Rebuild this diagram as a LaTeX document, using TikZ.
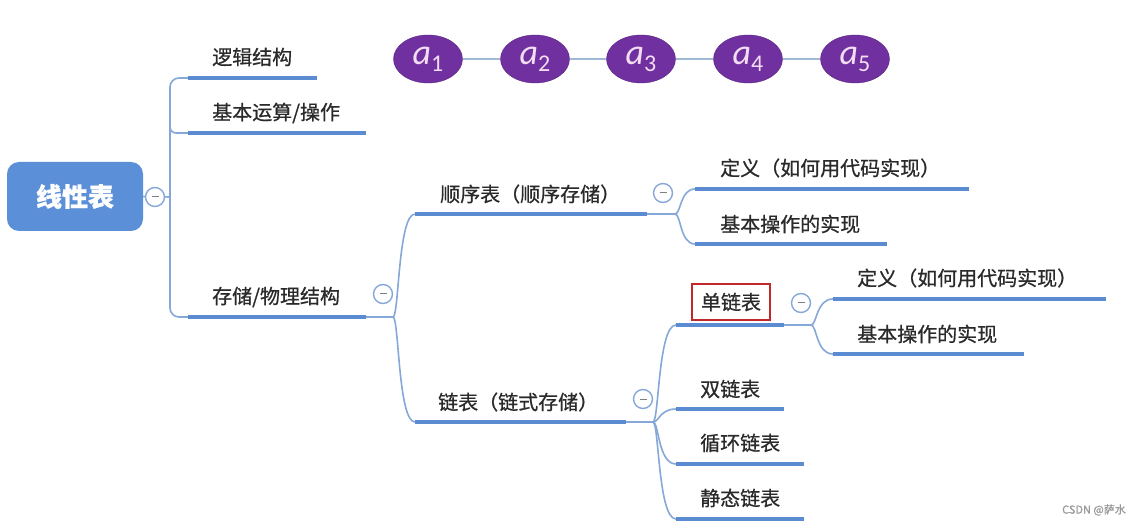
\documentclass[tikz,border=0pt]{standalone}
\usepackage{fontspec}
\setmainfont{Liberation Sans}
\newfontfamily\cjk{Noto Sans CJK SC}[RawFeature={embolden=0.7}]
\newfontfamily\elemfont{Carlito}
\usetikzlibrary{shapes.geometric}
\definecolor{ul}{HTML}{5B8BD0}
\definecolor{thinc}{HTML}{86A8D8}
\definecolor{rootc}{HTML}{5B8FD8}
\definecolor{txt}{HTML}{2A2A2A}
\definecolor{pur}{HTML}{7030A0}
\definecolor{purtxt}{HTML}{F3DDF3}
\definecolor{chain}{HTML}{9FB8D3}
\definecolor{redbox}{HTML}{C0282A}
\newcommand{\elemlabel}[1]{{\itshape a}\raisebox{-7pt}{\fontsize{24}{24}\selectfont #1}}
\begin{document}
\begin{tikzpicture}[x=1pt,y=-1pt,
  lbl/.style={anchor=west, inner sep=0pt, text=txt, font=\cjk\fontsize{20}{20}\selectfont},
  uline/.style={draw=ul, line width=4pt},
  conn/.style={draw=thinc, line width=1.6pt},
  fold/.style={circle, draw=thinc, line width=1.4pt, fill=white, minimum size=19pt, inner sep=0pt,
    path picture={\draw[gray, line width=1pt] ([xshift=-3.5pt]path picture bounding box.center) -- ([xshift=3.5pt]path picture bounding box.center);}},
  elem/.style={ellipse, fill=pur, draw=pur!80!black, minimum width=69pt, minimum height=48pt, inner sep=0pt, text=purtxt, font=\elemfont\fontsize{36}{36}\selectfont},
]
\useasboundingbox[fill=white] (0,0) rectangle (1137,526);

% root
\node[fill=rootc, rounded corners=12pt, minimum width=136pt, minimum height=69pt, inner sep=0pt,
  text=white, font=\cjk\bfseries\fontsize{26}{26}\selectfont] (root) at (75,196.5) {线性表};

% element chain
\node[elem] (a1) at (428,59) {\elemlabel{1}};
\node[elem] (a2) at (535,59) {\elemlabel{2}};
\node[elem] (a3) at (641,59) {\elemlabel{3}};
\node[elem] (a4) at (748,59) {\elemlabel{4}};
\node[elem] (a5) at (855,59) {\elemlabel{5}};
\foreach \p/\q in {a1/a2,a2/a3,a3/a4,a4/a5} \draw[chain, line width=1.5pt] (\p) -- (\q);

% labels
\node[lbl] (l1) at (212,57) {逻辑结构};
\node[lbl] (l2) at (212,113) {基本运算/操作};
\node[lbl] (l3) at (212,297) {存储/物理结构};
\node[lbl] (s1) at (440,194) {顺序表（顺序存储）};
\node[lbl] (s2) at (438,402) {链表（链式存储）};
\node[lbl] (d1) at (720,168) {定义（如何用代码实现）};
\node[lbl] (o1) at (720,224) {基本操作的实现};
\node[lbl, draw=redbox, line width=2pt, inner xsep=9pt, minimum height=36pt] (k1) at (691,302) {单链表};
\node[lbl] (d2) at (857,278) {定义（如何用代码实现）};
\node[lbl] (o2) at (857,334) {基本操作的实现};
\node[lbl] (k2) at (700,389) {双链表};
\node[lbl] (k3) at (700,443) {循环链表};
\node[lbl] (k4) at (700,498) {静态链表};

% underline end points
\coordinate (u1a) at (188,78);  \coordinate (u1b) at (317,78);
\coordinate (u2a) at (188,133); \coordinate (u2b) at (366,133);
\coordinate (u3a) at (188,317); \coordinate (u3b) at (366,317);
\coordinate (s1a) at (415,214); \coordinate (s1b) at (647,214);
\coordinate (s2a) at (415,422); \coordinate (s2b) at (626,422);
\coordinate (d1a) at (695,189); \coordinate (d1b) at (969,189);
\coordinate (o1a) at (695,244); \coordinate (o1b) at (887,244);
\coordinate (k1a) at (676,325); \coordinate (k1b) at (784,325);
\coordinate (d2a) at (833,299); \coordinate (d2b) at (1106,299);
\coordinate (o2a) at (833,354); \coordinate (o2b) at (1024,354);
\coordinate (k2a) at (676,409); \coordinate (k2b) at (784,409);
\coordinate (k3a) at (676,464); \coordinate (k3b) at (804,464);
\coordinate (k4a) at (676,519); \coordinate (k4b) at (804,519);

% branch points
\coordinate (t0) at (170,197);
\coordinate (bS) at (393,317);
\coordinate (bQ) at (675,214);
\coordinate (bL) at (653,422);
\coordinate (bK) at (811,325);

% connectors
\draw[conn, rounded corners=9pt] (u1a) -- (170,78) -- (170,317) -- (u3a);
\draw[conn, rounded corners=6pt] (170,120) -- (170,133) -- (u2a);
\draw[conn] (root.east) -- (t0);

\draw[conn] (u3b) -- (bS);
\draw[conn] (bS) .. controls (399,317) and (398,214) .. (s1a);
\draw[conn] (bS) .. controls (399,317) and (398,422) .. (s2a);

\draw[conn] (s1b) -- (bQ);
\draw[conn] (bQ) .. controls (681,214) and (680,189) .. (d1a);
\draw[conn] (bQ) .. controls (681,214) and (680,244) .. (o1a);

\draw[conn] (s2b) -- (bL);
\draw[conn] (bL) .. controls (659,422) and (658,325) .. (k1a);
\draw[conn] (bL) .. controls (659,422) and (660,409) .. (k2a);
\draw[conn] (bL) .. controls (659,422) and (658,464) .. (k3a);
\draw[conn] (bL) .. controls (659,422) and (658,519) .. (k4a);

\draw[conn] (k1b) -- (bK);
\draw[conn] (bK) .. controls (817,325) and (816,299) .. (d2a);
\draw[conn] (bK) .. controls (817,325) and (816,354) .. (o2a);

% underlines
\foreach \u in {u1,u2,u3,s1,s2,d1,o1,k1,d2,o2,k2,k3,k4}
  \draw[uline] (\u a) -- (\u b);

% fold markers
\node[fold] (f0) at (155,197) {};
\node[fold] (f1) at (383,294) {};
\node[fold] (f2) at (663,193) {};
\node[fold] (f3) at (643,399) {};
\node[fold] (f4) at (801,303) {};

% watermark
\node[anchor=east, inner sep=0pt, text=gray!80, font=\cjk\fontsize{11}{11}\selectfont] (wm) at (1126,510) {CSDN @萨水};
\end{tikzpicture}
\end{document}
